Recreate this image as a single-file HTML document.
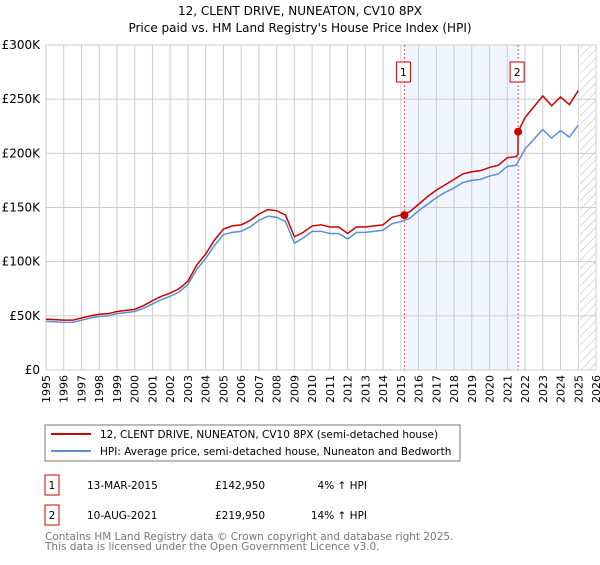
<!DOCTYPE html>
<html><head><meta charset="utf-8"><style>
body{margin:0;background:#fff;font-family:"Liberation Sans","DejaVu Sans",sans-serif;}
svg text{font-family:"DejaVu Sans","Liberation Sans",sans-serif;}
</style></head><body>
<svg id="c" width="600" height="560" viewBox="0 0 600 560">
<defs><pattern id="hatch" width="6" height="6" patternUnits="userSpaceOnUse" patternTransform="rotate(45)"><line x1="0" y1="0" x2="0" y2="6" stroke="#bbb" stroke-width="1"/></pattern></defs>
<text x="300" y="15" text-anchor="middle" font-size="12">12, CLENT DRIVE, NUNEATON, CV10 8PX</text>
<text x="300" y="32" text-anchor="middle" font-size="12">Price paid vs. HM Land Registry's House Price Index (HPI)</text>
<g id="plot"></g>
<rect x="45" y="425" width="415" height="36" fill="#fff" stroke="#777"/>
<line x1="51" y1="434" x2="91" y2="434" stroke="#cc0000" stroke-width="2"/>
<text x="100" y="438" font-size="10.5">12, CLENT DRIVE, NUNEATON, CV10 8PX (semi-detached house)</text>
<line x1="51" y1="451" x2="91" y2="451" stroke="#5b8fd6" stroke-width="2"/>
<text x="100" y="455" font-size="10.5">HPI: Average price, semi-detached house, Nuneaton and Bedworth</text>
<g font-size="10.5">
<rect x="45" y="475" width="14" height="20" fill="#fff" stroke="#cc0000"/><text x="52" y="489" text-anchor="middle">1</text>
<text x="87" y="489">13-MAR-2015</text><text x="215" y="489">£142,950</text><text x="367" y="489" text-anchor="end">4% ↑ HPI</text></g>
<g font-size="10.5">
<rect x="45" y="505" width="14" height="20" fill="#fff" stroke="#cc0000"/><text x="52" y="519" text-anchor="middle">2</text>
<text x="87" y="519">10-AUG-2021</text><text x="215" y="519">£219,950</text><text x="367" y="519" text-anchor="end">14% ↑ HPI</text></g>
<text x="45" y="540" font-size="10.5" fill="#777">Contains HM Land Registry data © Crown copyright and database right 2025.</text>
<text x="45" y="550" font-size="10.5" fill="#777">This data is licensed under the Open Government Licence v3.0.</text>
</svg>
<script>
const hpiYears=[1995,1995.5,1996,1996.5,1997,1997.5,1998,1998.5,1999,1999.5,2000,2000.5,2001,2001.5,2002,2002.5,2003,2003.5,2004,2004.5,2005,2005.5,2006,2006.5,2007,2007.5,2008,2008.5,2009,2009.5,2010,2010.5,2011,2011.5,2012,2012.5,2013,2013.5,2014,2014.5,2015,2015.5,2016,2016.5,2017,2017.5,2018,2018.5,2019,2019.5,2020,2020.5,2021,2021.5,2022,2022.5,2023,2023.5,2024,2024.5,2025];
const hpiValues=[45,44.5,44,44,46,48,49.5,50,52,53,54,57,61,65,68,72,79,93,103,115,125,127,128,132,138,142,141,137,117,122,128,128,126,126,121,127,127,128,129,135,137,140,147,153,159,164,168,173,175,176,179,181,188,189,204,213,222,214,221,215,226];
const priceYears=[1995,1995.5,1996,1996.5,1997,1997.5,1998,1998.5,1999,1999.5,2000,2000.5,2001,2001.5,2002,2002.5,2003,2003.5,2004,2004.5,2005,2005.5,2006,2006.5,2007,2007.5,2008,2008.5,2009,2009.5,2010,2010.5,2011,2011.5,2012,2012.5,2013,2013.5,2014,2014.5,2015,2015.5,2016,2016.5,2017,2017.5,2018,2018.5,2019,2019.5,2020,2020.5,2021,2021.5,2021.6,2021.61,2022,2022.5,2023,2023.5,2024,2024.5,2025];
const priceValues=[47,46.5,46,46,48,50,51.5,52,54,55,56,59.5,64,68,71,75,82,97,107,120,130,133,134,138,144,148,147,143,123,127,133,134,132,132,126,132,132,133,134,141,143,146,153,160,166,171,176,181,183,184,187,189,196,197,199,220,233,243,253,244,252,245,258];
const saleYears=[2015.2,2021.61];
const saleValues=[142.95,219.95];
const saleLabels=["1","2"];
const yTicks=[0,50,100,150,200,250,300];
const yTickLabels=["£0","£50K","£100K","£150K","£200K","£250K","£300K"];
const xTicks=[1995,1996,1997,1998,1999,2000,2001,2002,2003,2004,2005,2006,2007,2008,2009,2010,2011,2012,2013,2014,2015,2016,2017,2018,2019,2020,2021,2022,2023,2024,2025,2026];

const X0=46,X1=596,Y0=370,Y1=45;
const xs=y=>X0+(y-1995)/(2026-1995)*(X1-X0);
const ys=v=>Y0-v/300*(Y0-Y1);
const NS="http://www.w3.org/2000/svg";
const g=document.getElementById('plot');
function mk(t,a){const e=document.createElementNS(NS,t);for(const k in a)e.setAttribute(k,a[k]);g.appendChild(e);return e;}
let e;
e=mk('rect',{x:X0,y:Y1,width:X1-X0,height:Y0-Y1,fill:'#fff'});


e=mk('rect',{x:xs(saleYears[0]),y:Y1,width:xs(saleYears[1])-xs(saleYears[0]),height:Y0-Y1,fill:'#eef3fc',opacity:0.8});


e=mk('rect',{x:xs(2025.1),y:Y1,width:X1-xs(2025.1),height:Y0-Y1,fill:'url(#hatch)'});


xTicks.forEach(t=>{
 e=mk('line',{x1:xs(t),x2:xs(t),y1:Y1,y2:Y0,stroke:'#ccc'});
 
 
 e=mk('text',{x:0,y:0,'font-size':11,'text-anchor':'end',transform:`translate(${xs(t)+4},${Y0+5}) rotate(-90)`});
 e.textContent=t;
 
 
});
yTicks.forEach((t,i)=>{
 e=mk('line',{x1:X0,x2:X1,y1:ys(t),y2:ys(t),stroke:'#ccc'});
 
 
 e=mk('text',{x:X0-6,y:ys(t)+4,'font-size':12,'text-anchor':'end'});
 e.textContent=yTickLabels[i];
 
 
});
saleYears.forEach((s,i)=>{
 e=mk('line',{x1:xs(s),x2:xs(s),y1:Y1,y2:Y0,stroke:'#e55','stroke-dasharray':'2,2'});
 
 
 e=mk('rect',{x:xs(s)-8,y:62,width:14,height:20,fill:'#fff',stroke:'#cc0000'});
 
 
 e=mk('text',{x:xs(s)-1,y:76,'font-size':11,'text-anchor':'middle'});
 e.textContent=saleLabels[i];
 
 
});
e=mk('path',{d:hpiYears.map((y,i)=>(i?'L':'M')+xs(y)+','+ys(hpiValues[i])).join(''),fill:'none',stroke:'#5b8fd6','stroke-width':1.5});


e=mk('path',{d:priceYears.map((y,i)=>(i?'L':'M')+xs(y)+','+ys(priceValues[i])).join(''),fill:'none',stroke:'#cc0000','stroke-width':1.5});


saleYears.forEach((s,i)=>{
 e=mk('circle',{cx:xs(s),cy:ys(saleValues[i]),r:4,fill:'#cc0000'});
 
 
});
</script>
</body></html>
